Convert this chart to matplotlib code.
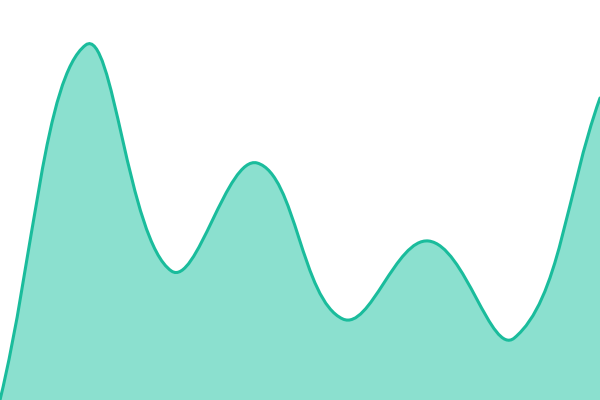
import numpy as np
import matplotlib
matplotlib.use("Agg")
import matplotlib.pyplot as plt
from matplotlib.path import Path
from matplotlib.patches import PathPatch

# data (one value per category, 8 categories)
categories = list(range(8))
values = [0, 355, 129, 237, 81, 159, 62, 302]

LINE_COLOR = "#1abc9c"
FILL_COLOR = "#8be0cf"
TENSION = 0.4
X_SCALE = 600 / 7  # pixels per category, used for spline distances


def spline_controls(xs, ys, tension):
    """Chart.js-like control points for a smooth curve through the points."""
    pts = np.column_stack([np.asarray(xs, float) * X_SCALE, np.asarray(ys, float)])
    n = len(pts)
    cp_prev, cp_next = [], []
    for i in range(n):
        prev = pts[max(i - 1, 0)]
        cur = pts[i]
        nxt = pts[min(i + 1, n - 1)]
        d01 = np.hypot(*(cur - prev))
        d12 = np.hypot(*(nxt - cur))
        tot = d01 + d12
        fa = tension * d01 / tot if tot else 0
        fb = tension * d12 / tot if tot else 0
        cp_prev.append(cur - fa * (nxt - prev))
        cp_next.append(cur + fb * (nxt - prev))
    scale = np.array([X_SCALE, 1.0])
    return pts / scale, [c / scale for c in cp_prev], [c / scale for c in cp_next]


def build_path(xs, ys, closed):
    pts, cpp, cpn = spline_controls(xs, ys, TENSION)
    verts = [pts[0]]
    codes = [Path.MOVETO]
    for i in range(1, len(pts)):
        verts += [cpn[i - 1], cpp[i], pts[i]]
        codes += [Path.CURVE4] * 3
    if closed:
        verts += [(xs[-1], 0), (xs[0], 0), pts[0]]
        codes += [Path.LINETO, Path.LINETO, Path.CLOSEPOLY]
    return Path(verts, codes)


fig = plt.figure(figsize=(6, 4), dpi=100)
ax = fig.add_axes([0, 0, 1, 1])
ax.add_patch(PathPatch(build_path(categories, values, True), facecolor=FILL_COLOR,
                       edgecolor="none"))
ax.add_patch(PathPatch(build_path(categories, values, False), facecolor="none",
                       edgecolor=LINE_COLOR, linewidth=2.2, capstyle="round"))
ax.set_xlim(0, 7)
ax.set_ylim(0, 400)
ax.axis("off")
fig.savefig("out.png", dpi=100)
